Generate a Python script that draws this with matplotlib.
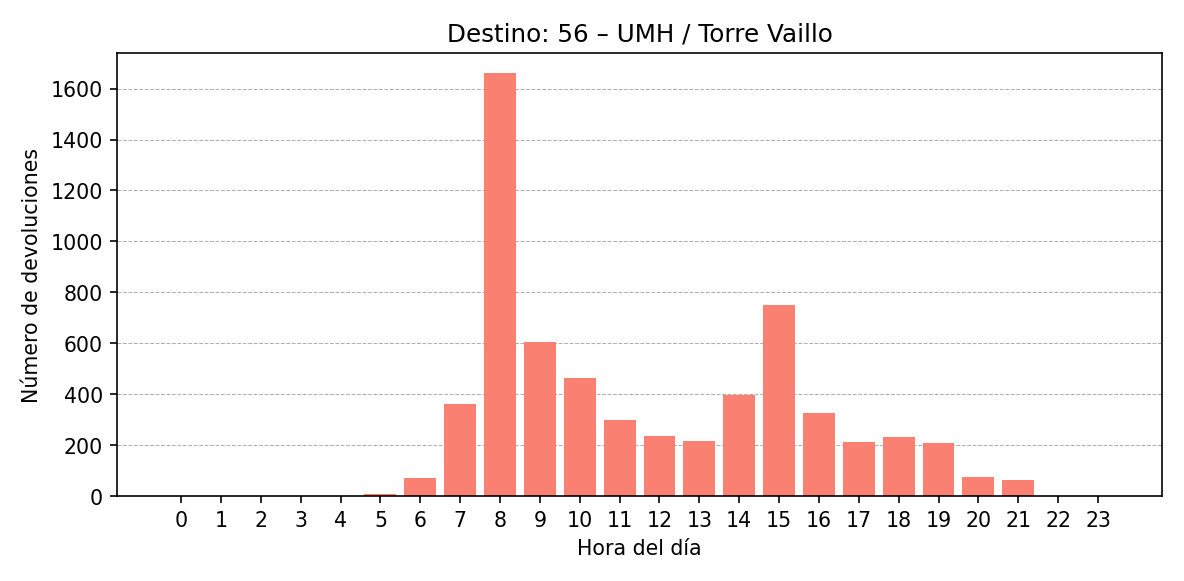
import matplotlib.pyplot as plt

horas = list(range(24))
devoluciones = [0, 0, 0, 0, 0, 10, 72, 360, 1660, 605, 462, 298, 237, 218,
                398, 752, 325, 213, 232, 207, 77, 65, 0, 0]

fig, ax = plt.subplots(figsize=(8, 3.93), dpi=148)
ax.bar(horas, devoluciones, color='salmon', zorder=2)
ax.set_xticks(horas)
ax.set_xlim(-1.6, 24.6)
ax.set_ylim(0, 1740)
ax.grid(axis='y', linestyle='--', linewidth=0.5, zorder=0)
ax.set_xlabel('Hora del día')
ax.set_ylabel('Número de devoluciones')
ax.set_title('Destino: 56 – UMH / Torre Vaillo')
fig.tight_layout()
fig.savefig('out.png')
